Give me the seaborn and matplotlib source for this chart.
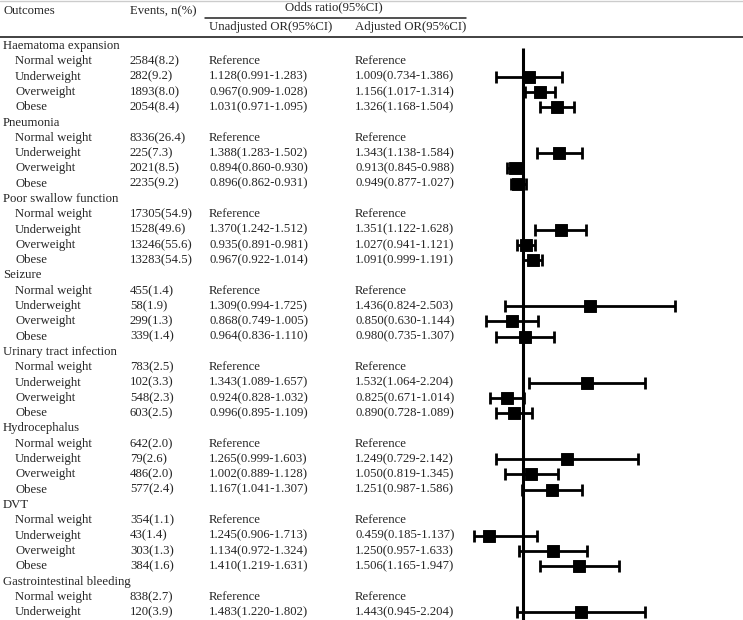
import matplotlib
matplotlib.use("Agg")
import matplotlib.pyplot as plt
import seaborn as sns
import numpy as np
import pandas as pd

# Datos de la tabla
outcomes = ["Haematoma expansion", "Pneumonia", "Poor swallow function", "Seizure",
            "Urinary tract infection", "Hydrocephalus", "DVT", "Gastrointestinal bleeding"]
bmi_groups = ["Normal weight", "Underweight", "Overweight", "Obese"]

events_n = [[2584, 282, 1893, 2054], [8336, 225, 2021, 2235], [17305, 1528, 13246, 13283],
            [455, 58, 299, 339], [783, 102, 548, 603], [642, 79, 486, 577],
            [354, 43, 303, 384], [838, 120]]
events_pct = [[8.2, 9.2, 8.0, 8.4], [26.4, 7.3, 8.5, 9.2], [54.9, 49.6, 55.6, 54.5],
              [1.4, 1.9, 1.3, 1.4], [2.5, 3.3, 2.3, 2.5], [2.0, 2.6, 2.0, 2.4],
              [1.1, 1.4, 1.3, 1.6], [2.7, 3.9]]

# Underweight, Overweight, Obese (Normal weight = Reference)
unadj_or = [[1.128, 0.967, 1.031], [1.388, 0.894, 0.896], [1.370, 0.935, 0.967],
            [1.309, 0.868, 0.964], [1.343, 0.924, 0.996], [1.265, 1.002, 1.167],
            [1.245, 1.134, 1.410], [1.483]]
unadj_lo = [[0.991, 0.909, 0.971], [1.283, 0.860, 0.862], [1.242, 0.891, 0.922],
            [0.994, 0.749, 0.836], [1.089, 0.828, 0.895], [0.999, 0.889, 1.041],
            [0.906, 0.972, 1.219], [1.220]]
unadj_hi = [[1.283, 1.028, 1.095], [1.502, 0.930, 0.931], [1.512, 0.981, 1.014],
            [1.725, 1.005, 1.110], [1.657, 1.032, 1.109], [1.603, 1.128, 1.307],
            [1.713, 1.324, 1.631], [1.802]]

adj_or = [[1.009, 1.156, 1.326], [1.343, 0.913, 0.949], [1.351, 1.027, 1.091],
          [1.436, 0.850, 0.980], [1.532, 0.825, 0.890], [1.249, 1.050, 1.251],
          [0.459, 1.250, 1.506], [1.443]]
adj_lo = [[0.734, 1.017, 1.168], [1.138, 0.845, 0.877], [1.122, 0.941, 0.999],
          [0.824, 0.630, 0.735], [1.064, 0.671, 0.728], [0.729, 0.819, 0.987],
          [0.185, 0.957, 1.165], [0.945]]
adj_hi = [[1.386, 1.314, 1.504], [1.584, 0.988, 1.027], [1.628, 1.121, 1.191],
          [2.503, 1.144, 1.307], [2.204, 1.014, 1.089], [2.142, 1.345, 1.586],
          [1.137, 1.633, 1.947], [2.204]]


def main():
    sns.set_theme(style="white")
    plt.rcParams['font.family'] = ['Liberation Serif', 'DejaVu Serif']
    fs = 9.2

    W, H = 743, 620
    fig = plt.figure(figsize=(W / 100, H / 100), dpi=100)

    # filas de la tabla
    rows = []
    r = 0
    for k, name in enumerate(outcomes):
        rows.append(dict(row=r, label=name, group=True))
        r += 1
        for j in range(len(events_n[k])):
            d = dict(row=r, label=bmi_groups[j], group=False,
                     events=f"{events_n[k][j]}({events_pct[k][j]:.1f})")
            if j == 0:
                d.update(unadj="Reference", adj="Reference")
            else:
                d.update(unadj=f"{unadj_or[k][j-1]:.3f}({unadj_lo[k][j-1]:.3f}-{unadj_hi[k][j-1]:.3f})",
                         adj=f"{adj_or[k][j-1]:.3f}({adj_lo[k][j-1]:.3f}-{adj_hi[k][j-1]:.3f})",
                         lo=adj_lo[k][j-1], hi=adj_hi[k][j-1], orv=adj_or[k][j-1])
            rows.append(d)
            r += 1
    df = pd.DataFrame(rows)

    y0, step = 46, 15.3

    # tabla de texto, en pixeles
    ax_t = fig.add_axes([0, 0, 1, 1])
    ax_t.set_xlim(0, W)
    ax_t.set_ylim(H, 0)
    ax_t.axis("off")

    ax_t.text(3, 11, "Outcomes", fontsize=fs, va="center")
    ax_t.text(130, 11, "Events, n(%)", fontsize=fs, va="center")
    ax_t.text(334, 7, "Odds ratio(95%CI)", fontsize=fs, va="center", ha="center")
    ax_t.plot([205, 466], [17.5, 17.5], color="#222222", lw=1.1)
    ax_t.text(209, 27, "Unadjusted OR(95%CI)", fontsize=fs, va="center")
    ax_t.text(355, 27, "Adjusted OR(95%CI)", fontsize=fs, va="center")
    ax_t.plot([0, W], [36.5, 36.5], color="#333333", lw=1.3)
    ax_t.plot([0, W], [0.5, 0.5], color="#cccccc", lw=1)

    for _, d in df.iterrows():
        y = y0 + step * d["row"]
        if d["group"]:
            ax_t.text(3, y, d["label"], fontsize=fs, va="center")
        else:
            ax_t.text(15, y, d["label"], fontsize=fs, va="center")
            ax_t.text(130, y, d["events"], fontsize=fs, va="center")
            ax_t.text(209, y, d["unadj"], fontsize=fs, va="center")
            ax_t.text(355, y, d["adj"], fontsize=fs, va="center")

    # forest plot (adjusted OR)
    x_min, x_px0, px_per_unit = 0.5, 422, 101
    left_px = x_px0 + x_min * px_per_unit
    top_px = 38
    ax = fig.add_axes([left_px / W, 0, (W - left_px) / W, (H - top_px) / H])
    ax.patch.set_alpha(0)
    ax.set_xlim(x_min, (W - x_px0) / px_per_unit)
    ax.set_ylim((H - y0) / step, (top_px - y0) / step)
    ax.axis("off")

    fp = df.dropna(subset=["lo"]).copy()
    fp["lo_c"] = np.maximum(fp["lo"], x_min + 0.01)
    # la caja va en el centro del intervalo, como en la figura original
    fp["mid"] = (fp["lo"] + fp["hi"]) / 2

    ax.vlines(1, 0.1, (H - y0) / step, color="black", lw=2.2, zorder=1)
    ax.errorbar(fp["mid"], fp["row"], xerr=[fp["mid"] - fp["lo_c"], fp["hi"] - fp["mid"]],
                fmt="none", ecolor="black", elinewidth=2, capsize=4.5, capthick=2, zorder=2)
    sns.scatterplot(data=fp, x="mid", y="row", marker="s", s=66, color="black",
                    edgecolor="black", legend=False, ax=ax, zorder=3)
    ax.set_xlabel("")
    ax.set_ylabel("")

    fig.savefig("out.png", dpi=100)


if __name__ == "__main__":
    main()
